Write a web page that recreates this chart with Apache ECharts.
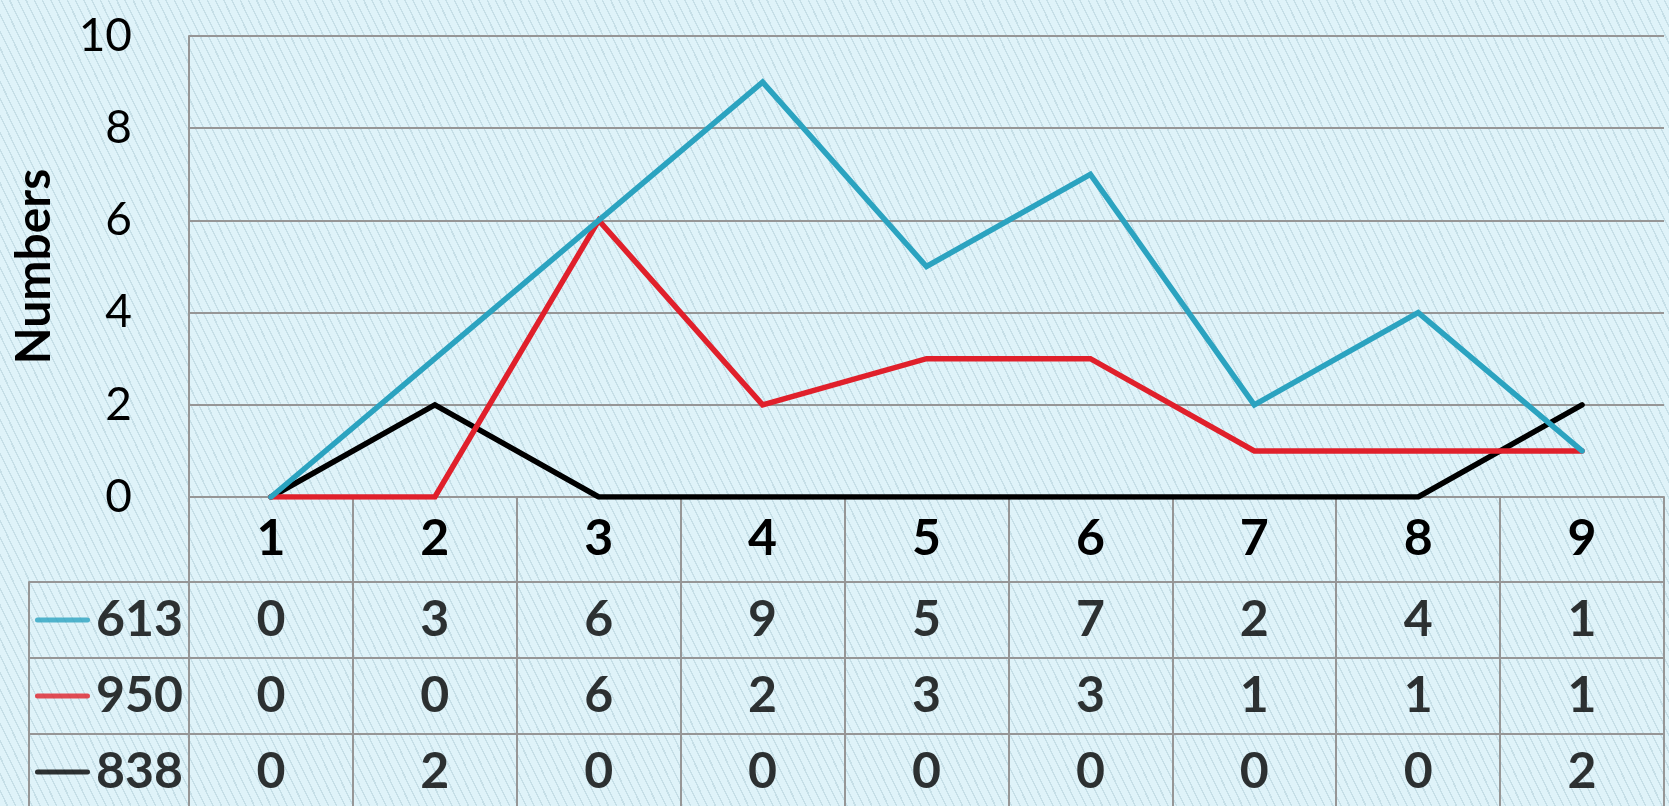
<!DOCTYPE html>
<html>
<head>
<meta charset="utf-8">
<script src="https://cdn.jsdelivr.net/npm/echarts@6/dist/echarts.min.js"></script>
<style>
html,body{margin:0;padding:0;}
#chart{width:1669px;height:806px;
background: repeating-linear-gradient(64deg, #dff3f9 0px, #dff3f9 6px, #c6dfe7 6px, #c6dfe7 7.4px);}
</style>
</head>
<body>
<div id="chart"></div>
<script>
// ---- data ----
const categories = ['1','2','3','4','5','6','7','8','9'];
const seriesNames = ['613','950','838'];
const values613 = [0,3,6,9,5,7,2,4,1];
const values950 = [0,0,6,2,3,3,1,1,1];
const values838 = [0,2,0,0,0,0,0,0,2];
const yTicks = {min:0, max:10, interval:2};
const axisName = 'Numbers';

const seriesValues = [values613, values950, values838];
const colors = ['#2ba3c0','#e0202b','#000000'];
const gridColor = '#969696';

const chart = echarts.init(document.getElementById('chart'));

const tableCells = [];
seriesValues.forEach((vals, s) => {
  vals.forEach((v, i) => tableCells.push([i, seriesNames[s], v]));
});
const legendCells = seriesNames.map((n, s) => ({value: [0, n], sIdx: s}));

const lineSeries = seriesNames.map((n, s) => ({
  type: 'line', name: n, xAxisIndex: 0, yAxisIndex: 0,
  data: seriesValues[s], symbol: 'none',
  lineStyle: {color: colors[s], width: 5.5, join: 'miter', cap: 'round'},
  itemStyle: {color: colors[s]}, z: 5 + (2 - s)
}));

const rich = {};
colors.forEach((c, s) => {
  rich['l' + s] = {width: 55, height: 5, backgroundColor: c, borderRadius: 2.5, verticalAlign: 'middle'};
});
rich.t = {fontFamily: 'Lato', fontWeight: 'bold', fontSize: 50, color: '#000', padding: [0,0,0,6], verticalAlign: 'middle'};

chart.setOption({
  animation: false,
  backgroundColor: 'transparent',
  grid: [
    {left: 189, right: 5, top: 36, height: 461, outerBoundsMode: 'none', containLabel: false},
    {left: 189, right: 5, top: 582, height: 228, outerBoundsMode: 'none', containLabel: false},
    {left: 29, width: 160, top: 582, height: 228, outerBoundsMode: 'none', containLabel: false}
  ],
  xAxis: [
    {type: 'category', gridIndex: 0, data: categories, boundaryGap: true,
     axisLine: {show: true, lineStyle: {color: gridColor, width: 2}},
     axisTick: {show: true, length: 85, alignWithLabel: false, lineStyle: {color: gridColor, width: 2}},
     axisLabel: {fontFamily: 'Lato', fontWeight: 'bold', fontSize: 50, color: '#000', margin: 42, verticalAlign: 'middle'},
     splitLine: {show: false}},
    {type: 'category', gridIndex: 1, data: categories, boundaryGap: true,
     axisLine: {show: false}, axisTick: {show: false}, axisLabel: {show: false},
     splitLine: {show: true, lineStyle: {color: gridColor, width: 2}}},
    {type: 'category', gridIndex: 2, data: [''], boundaryGap: true,
     axisLine: {show: false}, axisTick: {show: false}, axisLabel: {show: false},
     splitLine: {show: false}}
  ],
  yAxis: [
    {type: 'value', gridIndex: 0, min: yTicks.min, max: yTicks.max, interval: yTicks.interval,
     name: axisName, nameLocation: 'middle', nameRotate: 90, nameGap: 130, nameMoveOverlap: false,
     nameTextStyle: {fontFamily: 'Lato', fontWeight: 'bold', fontSize: 48, color: '#000'},
     axisLine: {show: true, lineStyle: {color: gridColor, width: 2}},
     axisTick: {show: false},
     axisLabel: {fontFamily: 'Lato', fontSize: 46, color: '#000', margin: 57, padding: [0,0,14,0]},
     splitLine: {show: true, lineStyle: {color: gridColor, width: 2}}},
    {type: 'category', gridIndex: 1, data: seriesNames, inverse: true, boundaryGap: true,
     axisLine: {show: true, lineStyle: {color: gridColor, width: 2}},
     axisTick: {show: false}, axisLabel: {show: false},
     splitLine: {show: true, lineStyle: {color: gridColor, width: 2}}},
    {type: 'category', gridIndex: 2, data: seriesNames, inverse: true, boundaryGap: true,
     axisLine: {show: true, lineStyle: {color: gridColor, width: 2}},
     axisTick: {show: false}, axisLabel: {show: false},
     splitLine: {show: true, lineStyle: {color: gridColor, width: 2}}}
  ],
  series: [
    ...lineSeries,
    {type: 'scatter', xAxisIndex: 1, yAxisIndex: 1, data: tableCells, symbolSize: 0,
     label: {show: true, position: 'inside', formatter: p => String(p.value[2]),
       fontFamily: 'Lato', fontWeight: 'bold', fontSize: 50, color: '#000'}},
    {type: 'scatter', xAxisIndex: 2, yAxisIndex: 2, data: legendCells, symbolSize: 0,
     label: {show: true, position: 'inside', rich: rich,
       formatter: p => '{l' + p.data.sIdx + '| }{t|' + p.value[1] + '}'}}
  ]
});
</script>
</body>
</html>
